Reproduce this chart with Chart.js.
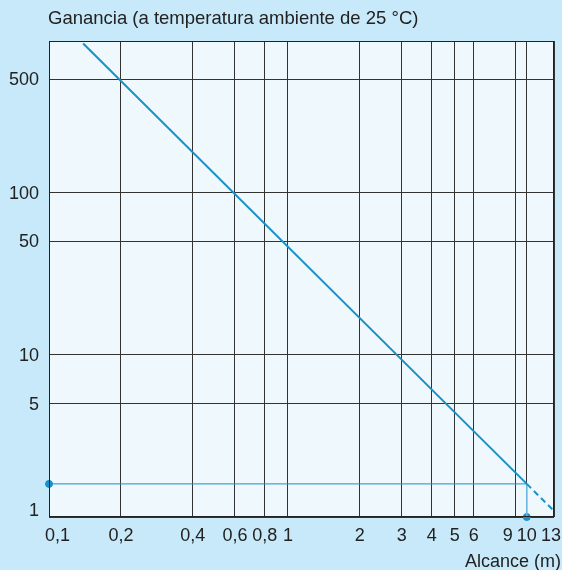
<!DOCTYPE html>
<html>
<head>
<meta charset="utf-8">
<script src="https://cdn.jsdelivr.net/npm/chart.js@4"></script>
<style>
  html, body { margin: 0; padding: 0; background: #c8e9f9; }
  canvas { display: block; }
</style>
</head>
<body>
<canvas id="c" width="562" height="570"></canvas>
<script>
// ---- data ----
const yTitle = 'Ganancia (a temperatura ambiente de 25 °C)';
const xTitle = 'Alcance (m)';
const xTickValues = [0.1, 0.2, 0.4, 0.6, 0.8, 1, 2, 3, 4, 5, 6, 9, 10, 13];
const yTickValues = [1, 5, 10, 50, 100, 500];
const gainLineX = [0.139, 10];
const gainLineY = [830, 1.6];
const extrapX = [10, 13];
const extrapY = [1.6, 1.09];
const refGain = 1.6;
const refRange = 10;
const xMin = 0.1, xMax = 13;
const yMin = 1, yMax = 860;

const BLUE = '#1a90c8';
const FONT = "'Liberation Sans', Arial, sans-serif";
const TICK_FONT = "18px " + FONT;

const toPts = (xs, ys) => xs.map((x, i) => ({ x, y: ys[i] }));
const fmtX = v => String(v).replace('.', ',');

// x tick labels at the scale's pixel positions, crowded labels spread apart
function drawXLabels(chart) {
  const { ctx, chartArea: a } = chart;
  const sx = chart.scales.x;
  ctx.save();
  ctx.font = TICK_FONT;
  ctx.fillStyle = '#222';
  ctx.textAlign = 'center';
  ctx.textBaseline = 'middle';
  const gap = 4;
  const items = xTickValues.map(v => {
    const text = fmtX(v);
    return { text, w: ctx.measureText(text).width, x: sx.getPixelForValue(v) };
  });
  items.forEach(it => {
    it.x = Math.min(it.x, chart.width - 1 - it.w / 2);
    it.x = Math.max(it.x, a.left - 4 + it.w / 2);
  });
  for (let i = items.length - 2; i >= 0; i--) {
    const p = items[i], q = items[i + 1];
    const minDist = (p.w + q.w) / 2 + gap;
    if (q.x - p.x < minDist) p.x = q.x - minDist;
  }
  const y = a.bottom + 19;
  items.forEach(it => ctx.fillText(it.text, it.x, y));
  ctx.restore();
}

// y tick labels at the scale's pixel positions, kept inside the plot's height
function drawYLabels(chart) {
  const { ctx, chartArea: a } = chart;
  const sy = chart.scales.y;
  ctx.save();
  ctx.font = TICK_FONT;
  ctx.fillStyle = '#222';
  ctx.textAlign = 'right';
  ctx.textBaseline = 'middle';
  const half = 7;
  yTickValues.forEach(v => {
    let y = sy.getPixelForValue(v);
    y = Math.min(y, a.bottom - half);
    y = Math.max(y, a.top + half);
    ctx.fillText(String(v), a.left - 10, y + 1);
  });
  ctx.restore();
}

const framePlugin = {
  id: 'frame',
  beforeDraw(chart) {
    const { ctx, chartArea: a } = chart;
    ctx.save();
    ctx.fillStyle = '#c8e9f9';
    ctx.fillRect(0, 0, chart.width, chart.height);
    ctx.fillStyle = '#eff8fd';
    ctx.fillRect(a.left, a.top, a.right - a.left, a.bottom - a.top);
    ctx.restore();
  },
  afterDraw(chart) {
    const { ctx, chartArea: a } = chart;
    ctx.save();
    ctx.strokeStyle = '#222';
    ctx.lineWidth = 1;
    ctx.strokeRect(Math.round(a.left) + 0.5, Math.round(a.top) + 0.5,
      Math.round(a.right - a.left) - 1, Math.round(a.bottom - a.top) - 1);
    ctx.fillStyle = '#222';
    ctx.font = "18.5px " + FONT;
    ctx.textBaseline = 'alphabetic';
    ctx.textAlign = 'left';
    ctx.fillText(yTitle, 48, 24);
    ctx.font = TICK_FONT;
    ctx.textAlign = 'right';
    ctx.fillText(xTitle, 561, 567);
    ctx.restore();
    drawXLabels(chart);
    drawYLabels(chart);
  }
};

new Chart(document.getElementById('c'), {
  type: 'line',
  data: {
    datasets: [
      { data: toPts(gainLineX, gainLineY), borderColor: BLUE, borderWidth: 2, pointRadius: 0 },
      { data: toPts(extrapX, extrapY), borderColor: BLUE, borderWidth: 2, borderDash: [6, 4], pointRadius: 0 },
      { data: toPts([xMin, refRange], [refGain, refGain]), borderColor: BLUE, borderWidth: 1, pointRadius: 0 },
      { data: toPts([refRange, refRange], [refGain, yMin]), borderColor: '#6cb8de', borderWidth: 1, pointRadius: 0 },
      { data: toPts([xMin, refRange], [refGain, yMin]), showLine: false, pointRadius: 3.5,
        pointBackgroundColor: BLUE, pointBorderColor: BLUE, clip: false }
    ]
  },
  options: {
    responsive: false,
    devicePixelRatio: 1,
    animation: false,
    events: [],
    layout: { padding: { top: 41, right: 8, bottom: 0, left: 0 } },
    plugins: { legend: { display: false }, tooltip: { enabled: false }, title: { display: false } },
    scales: {
      x: {
        type: 'logarithmic',
        min: xMin, max: xMax,
        afterBuildTicks: s => { s.ticks = xTickValues.map(v => ({ value: v, major: false })); },
        afterFit: s => { s.height = 53; s.paddingLeft = 0; s.paddingRight = 0; },
        border: { display: false },
        grid: { color: '#333', lineWidth: 1, drawTicks: false },
        ticks: { display: false, autoSkip: false, callback: v => fmtX(v) }
      },
      y: {
        type: 'logarithmic',
        min: yMin, max: yMax,
        afterBuildTicks: s => { s.ticks = yTickValues.map(v => ({ value: v, major: false })); },
        afterFit: s => { s.width = 49; s.paddingTop = 0; s.paddingBottom = 0; },
        border: { display: false },
        grid: { color: '#333', lineWidth: 1, drawTicks: false },
        ticks: { display: false, autoSkip: false, callback: v => String(v) }
      }
    }
  },
  plugins: [framePlugin]
});
</script>
</body>
</html>
